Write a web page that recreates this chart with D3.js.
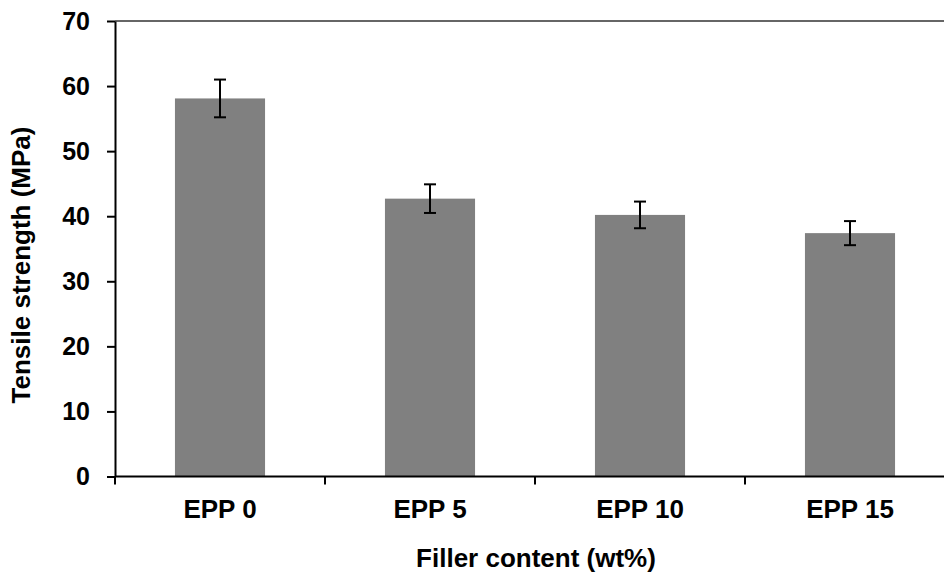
<!DOCTYPE html>
<html>
<head>
<meta charset="utf-8">
<script src="https://cdnjs.cloudflare.com/ajax/libs/d3/7.8.5/d3.min.js"></script>
<style>
  body { margin: 0; background: #fff; }
  svg { display: block; font-family: "Liberation Sans", Arial, sans-serif; font-weight: bold; }
</style>
</head>
<body>
<svg id="chart" width="944" height="573"></svg>
<script>
// data
var categories = ["EPP 0", "EPP 5", "EPP 10", "EPP 15"];
var strength = [58.1, 42.7, 40.2, 37.4];
var errors = [2.9, 2.2, 2.05, 1.85];
var yTicks = [0, 10, 20, 30, 40, 50, 60, 70];

var margin = { top: 21, left: 115 };
var plotRight = 955, plotBottom = 476.5;

var svg = d3.select("#chart");

var x = d3.scaleBand()
  .domain(categories)
  .range([margin.left, plotRight])
  .paddingInner(0.571)
  .paddingOuter(0.2855);

var y = d3.scaleLinear()
  .domain([0, 70])
  .range([plotBottom, margin.top]);

var data = categories.map((c, i) => ({ cat: c, value: strength[i], err: errors[i] }));

// top border of plot area
svg.append("line")
  .attr("x1", margin.left).attr("x2", plotRight)
  .attr("y1", y(70)).attr("y2", y(70))
  .attr("stroke", "#666")
  .attr("stroke-width", 2);

// bars
svg.append("g")
  .selectAll("rect")
  .data(data)
  .enter()
  .append("rect")
  .attr("x", d => x(d.cat))
  .attr("y", d => y(d.value))
  .attr("width", x.bandwidth())
  .attr("height", d => y(0) - y(d.value))
  .attr("fill", "#808080");

// error bars
var eb = svg.append("g")
  .attr("stroke", "#000")
  .attr("stroke-width", 2);
data.forEach(d => {
  var cx = x(d.cat) + x.bandwidth() / 2;
  eb.append("line")
    .attr("x1", cx).attr("x2", cx)
    .attr("y1", y(d.value + d.err)).attr("y2", y(d.value - d.err));
  [d.value + d.err, d.value - d.err].forEach(v => {
    eb.append("line")
      .attr("x1", cx - 6).attr("x2", cx + 6)
      .attr("y1", y(v)).attr("y2", y(v));
  });
});

// y axis
var yAxis = svg.append("g")
  .attr("transform", `translate(${margin.left},0)`)
  .call(d3.axisLeft(y).tickValues(yTicks).tickSize(8).tickPadding(17).tickSizeOuter(0));
yAxis.select(".domain").attr("stroke-width", 2);
yAxis.selectAll(".tick line").attr("stroke-width", 2);
yAxis.selectAll("text")
  .style("font-size", "25px")
  .style("font-weight", "bold")
  .style("font-family", "'Liberation Sans', Arial, sans-serif")
  .attr("fill", "#000");

// x axis, ticks sit between categories
var xAxis = svg.append("g")
  .attr("transform", `translate(0,${plotBottom})`);
xAxis.append("line")
  .attr("x1", margin.left).attr("x2", plotRight)
  .attr("stroke", "#000").attr("stroke-width", 2);
xAxis.selectAll(".sep")
  .data(categories.concat([null]))
  .enter()
  .append("line")
  .attr("class", "sep")
  .attr("x1", (d, i) => margin.left + i * x.step())
  .attr("x2", (d, i) => margin.left + i * x.step())
  .attr("y1", 0).attr("y2", 8)
  .attr("stroke", "#000").attr("stroke-width", 2);
xAxis.selectAll(".lbl")
  .data(categories)
  .enter()
  .append("text")
  .attr("class", "lbl")
  .attr("x", d => x(d) + x.bandwidth() / 2)
  .attr("y", 41.5)
  .attr("text-anchor", "middle")
  .style("font-size", "26px")
  .text(d => d);

// axis titles
svg.append("text")
  .attr("x", 536)
  .attr("y", 567)
  .attr("text-anchor", "middle")
  .style("font-size", "26px")
  .text("Filler content (wt%)");

svg.append("text")
  .attr("transform", "translate(30,265) rotate(-90)")
  .attr("text-anchor", "middle")
  .style("font-size", "26px")
  .text("Tensile strength (MPa)");
</script>
</body>
</html>
